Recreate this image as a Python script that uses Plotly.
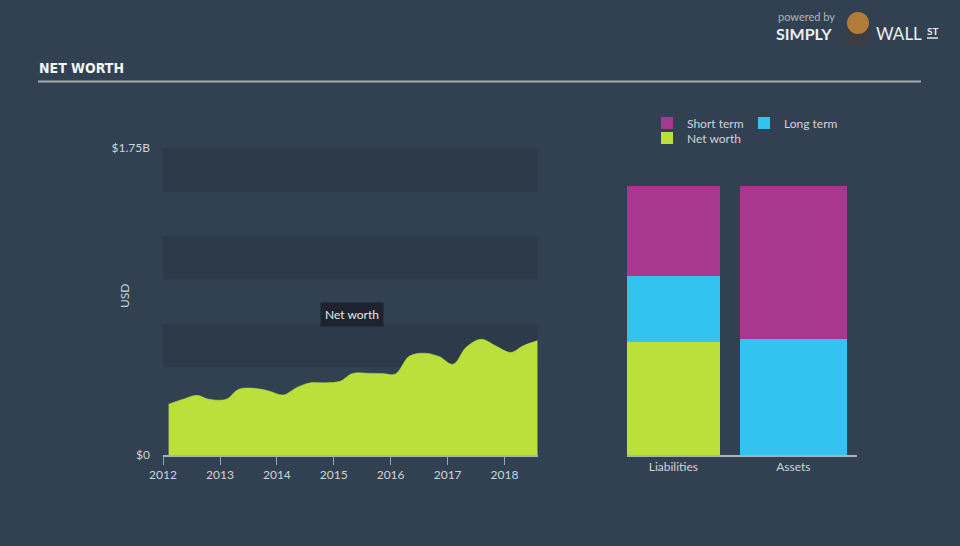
import plotly.graph_objects as go

# ---------------- data ----------------
dates = ["2012-02-06", "2012-05-10", "2012-08-05", "2012-10-20", "2013-02-10",
         "2013-05-01", "2013-08-10", "2013-11-10", "2014-02-10", "2014-05-10",
         "2014-08-05", "2014-11-10", "2015-02-10", "2015-05-01", "2015-08-10",
         "2015-11-10", "2016-02-01", "2016-05-01", "2016-08-10", "2016-11-10",
         "2017-02-05", "2017-05-01", "2017-08-05", "2017-11-10", "2018-02-10",
         "2018-05-01", "2018-08-02"]
net_worth = [0.290, 0.318, 0.340, 0.318, 0.318,
             0.375, 0.380, 0.365, 0.342, 0.385,
             0.412, 0.412, 0.420, 0.465, 0.466,
             0.464, 0.462, 0.564, 0.580, 0.560,
             0.517, 0.615, 0.660, 0.620, 0.585,
             0.623, 0.652]

year_ticks = ["2012-01-01", "2013-01-01", "2014-01-01", "2015-01-01",
              "2016-01-01", "2017-01-01", "2018-01-01"]
year_labels = ["2012", "2013", "2014", "2015", "2016", "2017", "2018"]
y_tickvals = [0, 1.75]
y_ticktext = ["$0", "$1.75B"]
bands = [(0.5, 0.75), (1.0, 1.25), (1.5, 1.75)]

bar_cats = ["Liabilities", "Assets"]
bar_net_worth = [0.652, 0.0]
bar_long_term = [0.378, 0.666]
bar_short_term = [0.520, 0.884]

# ---------------- style ----------------
W, H = 960, 546
BG = "#324151"
GREEN = "#bbdf3b"
PURPLE = "#a8378f"
BLUE = "#33c3f0"
TXT = "#cfd4da"
FONT = "Lato, 'Open Sans', sans-serif"


def px(x):
    return x / W


def py(y):
    return (H - y) / H


fig = go.Figure()

fig.add_trace(go.Scatter(
    x=dates, y=net_worth, mode="lines", line=dict(shape="spline", width=0.5, color=GREEN),
    fill="tozeroy", fillcolor=GREEN, showlegend=False, hoverinfo="skip",
    xaxis="x", yaxis="y"))

fig.add_trace(go.Bar(x=bar_cats, y=bar_net_worth, name="Net worth", marker=dict(color=GREEN, line=dict(width=0)),
                     width=[0.778, 0.889], xaxis="x2", yaxis="y2", legend="legend3"))
fig.add_trace(go.Bar(x=bar_cats, y=bar_long_term, name="Long term", marker=dict(color=BLUE, line=dict(width=0)),
                     width=[0.778, 0.889], xaxis="x2", yaxis="y2", legend="legend2"))
fig.add_trace(go.Bar(x=bar_cats, y=bar_short_term, name="Short term", marker=dict(color=PURPLE, line=dict(width=0)),
                     width=[0.778, 0.889], xaxis="x2", yaxis="y2", legend="legend"))

shapes = []
for lo, hi in bands:
    shapes.append(dict(type="rect", xref="x domain", yref="y", x0=0, x1=1, y0=lo, y1=hi,
                       fillcolor="rgba(20,30,42,0.18)", line=dict(width=0), layer="below"))
# title underline
shapes.append(dict(type="line", xref="paper", yref="paper", x0=px(38), x1=px(921), y0=py(81.5), y1=py(81.5),
                   line=dict(color="#a3abb4", width=2)))
# logo bull (simple)
shapes.append(dict(type="circle", xref="paper", yref="paper", x0=px(845), x1=px(871), y0=py(47), y1=py(24),
                   fillcolor="#3b3d42", line=dict(width=0)))
shapes.append(dict(type="circle", xref="paper", yref="paper", x0=px(847), x1=px(869), y0=py(34), y1=py(12),
                   fillcolor="#b27c38", line=dict(width=0)))
shapes.append(dict(type="line", xref="paper", yref="paper", x0=px(927), x1=px(938), y0=py(38), y1=py(38),
                   line=dict(color="#e4e7ea", width=1.5)))

annotations = [
    dict(text="<b>NET WORTH</b>", x=px(37), y=py(68), xref="paper", yref="paper", xanchor="left", yanchor="middle",
         showarrow=False, font=dict(family="'DejaVu Sans Condensed', 'Liberation Sans Narrow', sans-serif",
                                    size=14, color="#f2f4f6")),
    dict(text="USD", x=px(124), y=py(296), xref="paper", yref="paper", xanchor="center", yanchor="middle",
         textangle=-90, showarrow=False, font=dict(family=FONT, size=12, color=TXT)),
    dict(text="Net worth", x=px(352), y=py(314.5), xref="paper", yref="paper", xanchor="center",
         yanchor="middle", showarrow=False,
         bgcolor="#1d2430", borderpad=4, font=dict(family=FONT, size=12, color="#e6e9ec")),
    dict(text="powered by", x=px(776), y=py(16), xref="paper", yref="paper", xanchor="left", yanchor="middle",
         showarrow=False, font=dict(family=FONT, size=11, color="#aeb5bd")),
    dict(text="<b>SIMPLY</b>", x=px(774), y=py(33), xref="paper", yref="paper", xanchor="left", yanchor="middle",
         showarrow=False, font=dict(family=FONT, size=16, color="#eceef0")),
    dict(text="WALL", x=px(874), y=py(33), xref="paper", yref="paper", xanchor="left", yanchor="middle",
         showarrow=False, font=dict(family=FONT, size=17, color="#eceef0")),
    dict(text="<b>ST</b>", x=px(925), y=py(31), xref="paper", yref="paper", xanchor="left", yanchor="middle",
         showarrow=False, font=dict(family=FONT, size=10, color="#eceef0")),
]

legend_common = dict(orientation="v", xanchor="left", yanchor="middle", bgcolor="rgba(0,0,0,0)",
                     font=dict(family=FONT, size=12, color=TXT), itemclick=False, itemdoubleclick=False)

fig.update_layout(
    width=W, height=H, margin=dict(l=0, r=0, t=0, b=0, pad=0, autoexpand=False),
    paper_bgcolor=BG, plot_bgcolor=BG,
    font=dict(family=FONT, size=12, color=TXT),
    barmode="stack", bargap=0,
    shapes=shapes, annotations=annotations,
    hovermode=False,
    xaxis=dict(domain=[px(163), px(537.7)], type="date", range=["2012-01-01", "2018-08-02"],
               tickvals=year_ticks, ticktext=year_labels, ticks="outside", ticklen=8, tickwidth=1,
               tickcolor="#9aa4ae", showline=True, linecolor="#a9b2bb", linewidth=1.5, automargin=False,
               showgrid=False, zeroline=False, tickfont=dict(size=12, color=TXT)),
    yaxis=dict(domain=[py(455), py(148)], range=[0, 1.75], tickvals=y_tickvals, ticktext=y_ticktext,
               showgrid=False, zeroline=False, showline=False, ticks="", ticklabelstandoff=12,
               automargin=False, tickfont=dict(size=12, color=TXT)),
    xaxis2=dict(domain=[px(626.7), px(857)], anchor="y2", type="category", range=[-0.389, 1.531],
                showline=True, linecolor="#a9b2bb", linewidth=1.5, ticks="", showgrid=False,
                automargin=False, tickfont=dict(size=12, color=TXT)),
    yaxis2=dict(domain=[py(455), py(148)], anchor="x2", range=[0, 1.766], visible=False,
                showgrid=False, zeroline=False, automargin=False),
    legend=dict(x=px(647), y=py(123), **legend_common),
    legend2=dict(x=px(744), y=py(123), **legend_common),
    legend3=dict(x=px(647), y=py(138), **legend_common),
)

fig.write_html("out.html")
